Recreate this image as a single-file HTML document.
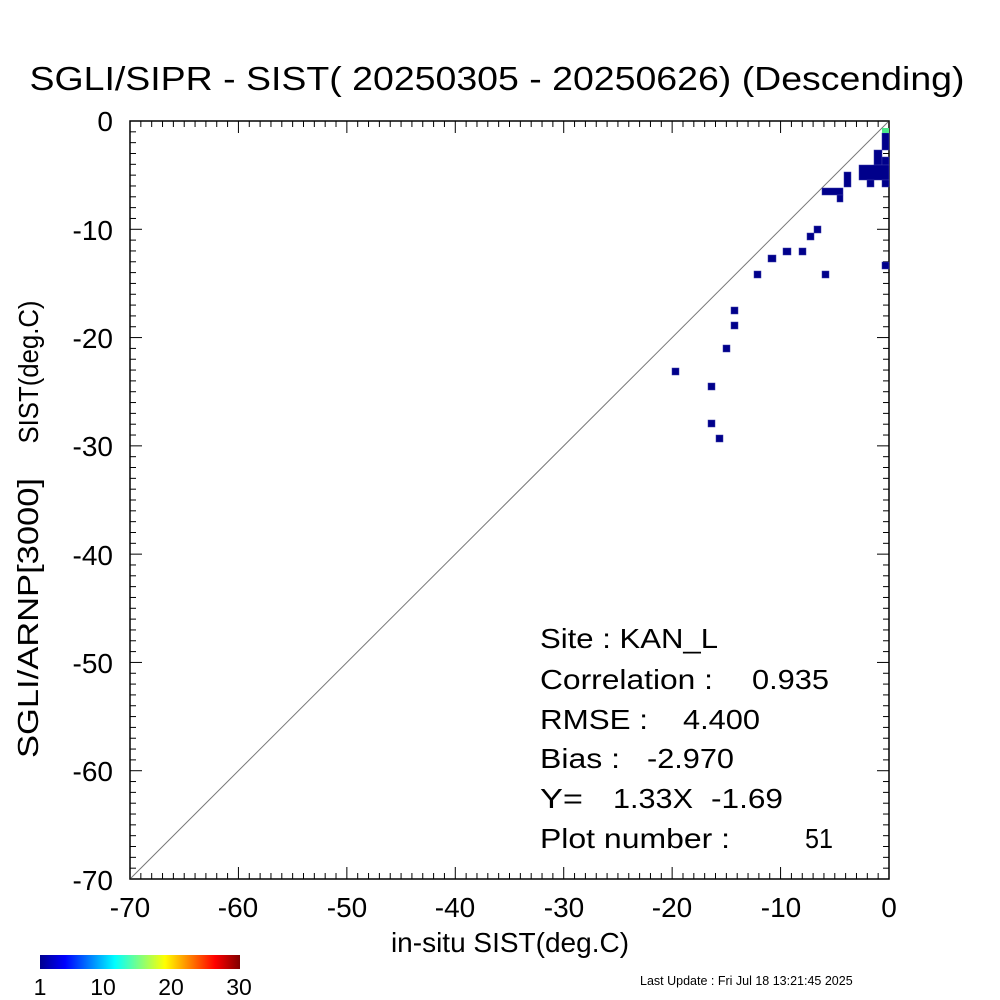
<!DOCTYPE html><html><head><style>body{margin:0;background:#fff}svg{display:block}text{font-family:"Liberation Sans",sans-serif;white-space:pre}</style></head><body>
<svg id="s" width="1000" height="1000" xmlns="http://www.w3.org/2000/svg" xml:space="preserve">
<defs><linearGradient id="jet" x1="0" x2="1"><stop offset="0" stop-color="#00008f"/><stop offset="0.125" stop-color="#0000ff"/><stop offset="0.375" stop-color="#00ffff"/><stop offset="0.625" stop-color="#ffff00"/><stop offset="0.875" stop-color="#ff0000"/><stop offset="1" stop-color="#800000"/></linearGradient></defs>
<text x="497" y="90" font-size="33" text-anchor="middle" textLength="935" lengthAdjust="spacingAndGlyphs">SGLI/SIPR - SIST( 20250305 - 20250626) (Descending)</text>
<rect x="130" y="121" width="759" height="758" fill="none" stroke="#000" stroke-width="1.5"/>
<line x1="130" y1="879" x2="889" y2="121" stroke="#777" stroke-width="1"/>
<g id="t" stroke="#000" stroke-width="1"></g>
<g id="p" fill="#00008b" stroke="#3a3aa8" stroke-width="0.5"></g>
<rect x="882" y="128" width="7" height="5" fill="#4de88a"/>
<g font-size="28" text-anchor="middle">
<text x="130" y="917">-70</text><text x="238" y="917">-60</text><text x="347" y="917">-50</text><text x="455" y="917">-40</text><text x="564" y="917">-30</text><text x="672" y="917">-20</text><text x="781" y="917">-10</text><text x="889" y="917">0</text>
</g>
<g font-size="28" text-anchor="end">
<text x="113" y="131">0</text><text x="113" y="240">-10</text><text x="113" y="348">-20</text><text x="113" y="456">-30</text><text x="113" y="565">-40</text><text x="113" y="673">-50</text><text x="113" y="781">-60</text><text x="113" y="890">-70</text>
</g>
<text x="510" y="952" font-size="28" text-anchor="middle">in-situ SIST(deg.C)</text>
<text transform="translate(38,372) rotate(-90)" font-size="28" text-anchor="middle" textLength="143" lengthAdjust="spacingAndGlyphs">SIST(deg.C)</text>
<text transform="translate(38,618) rotate(-90)" font-size="29" text-anchor="middle" textLength="280" lengthAdjust="spacingAndGlyphs">SGLI/ARNP[3000]</text>
<g font-size="28">
<text x="540" y="648" textLength="178" lengthAdjust="spacingAndGlyphs">Site : KAN_L</text>
<text x="540" y="689" textLength="173" lengthAdjust="spacingAndGlyphs">Correlation :</text><text x="752" y="689" textLength="77" lengthAdjust="spacingAndGlyphs">0.935</text>
<text x="540" y="729" textLength="108" lengthAdjust="spacingAndGlyphs">RMSE :</text><text x="683" y="729" textLength="77" lengthAdjust="spacingAndGlyphs">4.400</text>
<text x="540" y="768" textLength="80" lengthAdjust="spacingAndGlyphs">Bias :</text><text x="647" y="768" textLength="87" lengthAdjust="spacingAndGlyphs">-2.970</text>
<text x="540" y="808" textLength="43" lengthAdjust="spacingAndGlyphs">Y=</text><text x="613" y="808" textLength="80" lengthAdjust="spacingAndGlyphs">1.33X</text><text x="711" y="808" textLength="72" lengthAdjust="spacingAndGlyphs">-1.69</text>
<text x="540" y="848" textLength="190" lengthAdjust="spacingAndGlyphs">Plot number :</text><text x="805" y="848" textLength="28" lengthAdjust="spacingAndGlyphs">51</text>
</g>
<rect x="40" y="955" width="200" height="14" fill="url(#jet)"/>
<g font-size="23" text-anchor="middle"><text x="40" y="995">1</text><text x="103" y="995">10</text><text x="171" y="995">20</text><text x="239" y="995">30</text></g>
<text x="640" y="985" font-size="12.5">Last Update : Fri Jul 18 13:21:45 2025</text>
</svg>
<script>
var ns="http://www.w3.org/2000/svg",t=document.getElementById('t'),p=document.getElementById('p');
function L(a,b,c,d){var l=document.createElementNS(ns,'line');l.setAttribute('x1',a);l.setAttribute('y1',b);l.setAttribute('x2',c);l.setAttribute('y2',d);t.appendChild(l);}
for(var i=0;i<=70;i++){var k=i%10==0?12:6;var x=130+i*759/70,y=121+i*758/70;
L(x,879,x,879-k);L(x,121,x,121+k);L(130,y,130+k,y);L(889,y,889-k,y);}
var r=[[882,133,7,17],[874,150,8,15],[882,157,7,8],[859,165,30,15],[867,180,7,7],[882,180,7,7],[844,172,7,15],[822,188,21,7],[837,195,6,7],[814,226,7,7],[807,233,7,7],[783,248,8,7],[799,248,7,7],[768,255,8,7],[754,271,7,7],[822,271,7,7],[882,262,7,7],[731,307,7,7],[731,322,7,7],[723,345,7,7],[672,368,7,7],[708,383,7,7],[708,420,7,7],[716,435,7,7]];
r.forEach(function(a){var e=document.createElementNS(ns,'rect');e.setAttribute('x',a[0]);e.setAttribute('y',a[1]);e.setAttribute('width',a[2]);e.setAttribute('height',a[3]);p.appendChild(e);});
</script>
</body></html>
